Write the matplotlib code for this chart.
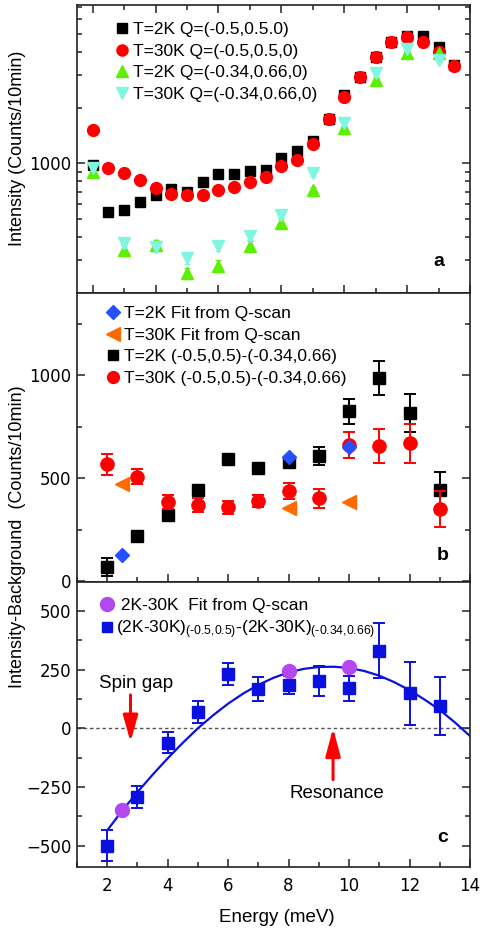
import matplotlib
matplotlib.use('Agg')
import matplotlib.pyplot as plt
from matplotlib.lines import Line2D
from matplotlib.ticker import MultipleLocator, LogLocator, NullFormatter, FixedLocator

plt.rcParams['font.family'] = ['DejaVu Sans']
plt.rcParams['mathtext.fontset'] = 'custom'
plt.rcParams['mathtext.rm'] = 'Liberation Sans'
plt.rcParams['mathtext.it'] = 'Liberation Sans:italic'
plt.rcParams['mathtext.default'] = 'regular'

TXT = ['Liberation Sans', 'DejaVu Sans']

# ---- panel a: raw intensities (log scale) ----
energy_half = [2.0, 2.5, 3.0, 3.5, 4.0, 4.5, 5.0, 5.5, 6.0, 6.5, 7.0, 7.5,
               8.0, 8.5, 9.0, 9.5, 10.0, 10.5, 11.0, 11.5, 12.0, 12.5, 13.0, 13.5]
a_2k_af  = [979, 543, 560, 615, 674, 726, 697, 795, 875, 875, 909, 920,
            1064, 1166, 1325, 1735, 2340, 2915, 3770, 4540, 4877, 4877, 4236, 3400]
a_2k_af_err = [30, 20, 20, 22, 23, 24, 23, 26, 28, 28, 29, 29,
               32, 34, 38, 45, 55, 62, 72, 80, 84, 84, 76, 66]
a_30k_af = [1514, 940, 883, 812, 738, 680, 674, 674, 717, 747, 795, 847,
            971, 1042, 1272, 1735, 2291, 2915, 3741, 4540, 4833, 4540, 4010, 3370]
a_30k_af_err = [40, 28, 27, 26, 25, 24, 24, 24, 25, 26, 27, 28,
                30, 32, 36, 45, 54, 62, 72, 80, 83, 80, 74, 66]

energy = [2, 3, 4, 5, 6, 7, 8, 9, 10, 11, 12, 13]
a_2k_bg  = [894, 340, 362, 254, 280, 357, 478, 717, 1546, 2818, 3933, 3933]
a_2k_bg_err = [30, 20, 21, 18, 19, 21, 25, 30, 45, 62, 75, 75]
a_30k_bg = [940, 370, 351, 306, 357, 405, 526, 883, 1645, 3064, 4130, 3616]
a_30k_bg_err = [31, 21, 20, 19, 21, 22, 26, 33, 46, 64, 77, 72]

# ---- panel b: intensity - background ----
b_2k = [68, 218, 320, 442, 592, 551, 580, 608, 824, 987, 816, 442]
b_2k_err = [43, 15, 15, 15, 18, 22, 18, 45, 63, 82, 94, 88]
b_30k = [567, 507, 385, 369, 358, 389, 437, 402, 662, 657, 670, 348]
b_30k_err = [52, 37, 35, 35, 30, 30, 38, 47, 63, 83, 95, 88]
qfit_energy = [2.5, 8, 10]
qfit_2k = [125, 602, 650]
qfit_30k = [472, 353, 384]

# ---- panel c: 2K - 30K ----
c_diff = [-500, -291, -61, 68, 232, 166, 185, 202, 170, 330, 149, 95]
c_diff_err = [66, 47, 45, 46, 48, 51, 37, 65, 53, 117, 133, 125]
c_qfit = [-348, 244, 263]
curve_energy = [2.0, 2.5, 3.0, 3.5, 4.0, 4.5, 5.0, 5.5, 6.0, 6.5, 7.0, 7.5, 8.0,
                8.5, 9.0, 9.5, 10.0, 10.5, 11.0, 11.5, 12.0, 12.5, 13.0, 13.5, 14.0]
curve_val = [-435, -350, -272, -198, -128, -62, 0, 55, 105, 148, 185, 215, 238,
             253, 261, 262, 257, 244, 224, 196, 162, 122, 78, 25, -33]

BLACK, RED, GREEN, CYAN = '#000000', '#ff0000', '#5cf000', '#80f6e2'
BLUE_D, ORANGE, BLUE, PURPLE = '#2450ff', '#ff6a00', '#0a10e0', '#b347f0'


def style(ax, top=False):
    ax.tick_params(which='both', direction='in', right=True, top=top,
                   width=1.1, labelsize=12, colors='#222222', labelcolor='black')
    ax.tick_params(which='major', length=6)
    ax.tick_params(which='minor', length=3.5)
    ax.tick_params(axis='y', pad=4)
    ax.tick_params(axis='x', pad=7)
    for s in ax.spines.values():
        s.set_linewidth(1.2)
        s.set_color('#222222')
    ax.xaxis.set_major_locator(MultipleLocator(2))
    ax.xaxis.set_minor_locator(MultipleLocator(1))


fig = plt.figure(figsize=(4.8, 9.33), dpi=100)
L, W = 77 / 480, 393 / 480
ax_a = fig.add_axes([L, 1 - 293 / 933, W, 288 / 933])
ax_b = fig.add_axes([L, 1 - 582 / 933, W, 289 / 933])
ax_c = fig.add_axes([L, 1 - 867 / 933, W, 285 / 933])

# panel a
ax_a.set_yscale('log')
eb = dict(fmt='none', elinewidth=0.9, capsize=2, capthick=0.9)
ax_a.errorbar(energy_half, a_2k_af, yerr=a_2k_af_err, ecolor=BLACK, zorder=2, **eb)
ax_a.plot(energy_half, a_2k_af, 's', color=BLACK, ms=7.5, zorder=2)
ax_a.errorbar(energy_half, a_30k_af, yerr=a_30k_af_err, ecolor='#200000', zorder=3, **eb)
ax_a.plot(energy_half, a_30k_af, 'o', color=RED, ms=8.5, zorder=3)
ax_a.errorbar(energy, a_2k_bg, yerr=a_2k_bg_err, ecolor=GREEN, zorder=4, **eb)
ax_a.plot(energy, a_2k_bg, '^', color=GREEN, ms=8.5, zorder=4)
ax_a.errorbar(energy, a_30k_bg, yerr=a_30k_bg_err, ecolor=CYAN, zorder=5, **eb)
ax_a.plot(energy, a_30k_bg, 'v', color=CYAN, ms=8.5, zorder=5)
ax_a.set_xlim(1.5, 14)
ax_a.set_ylim(199, 7170)
style(ax_a, top=True)
ax_a.yaxis.set_major_locator(FixedLocator([1000]))
ax_a.set_yticklabels(['1000'])
ax_a.yaxis.set_minor_locator(LogLocator(base=10, subs=(2, 3, 4, 5, 6, 7, 8, 9)))
ax_a.yaxis.set_minor_formatter(NullFormatter())
ax_a.tick_params(labelbottom=False)
h_a = [Line2D([], [], ls='none', marker='s', color=BLACK, ms=7),
       Line2D([], [], ls='none', marker='o', color=RED, ms=8),
       Line2D([], [], ls='none', marker='^', color=GREEN, ms=8),
       Line2D([], [], ls='none', marker='v', color=CYAN, ms=8)]
ax_a.legend(h_a, ['T=2K Q=(-0.5,0.5.0)', 'T=30K Q=(-0.5,0.5,0)',
                  'T=2K Q=(-0.34,0.66,0)', 'T=30K Q=(-0.34,0.66,0)'],
            loc='upper left', bbox_to_anchor=(0.102, 0.941), frameon=False,
            borderpad=0, borderaxespad=0, handlelength=0.6, handletextpad=0.3,
            labelspacing=0.37, prop={'family': TXT, 'size': 12.5})
ax_a.text(0.921, 0.108, 'a', transform=ax_a.transAxes, ha='center', va='center',
          fontsize=14, fontweight='bold', family=TXT)

# panel b
eb2 = dict(fmt='none', elinewidth=1.4, capsize=4.5, capthick=1.4)
ax_b.errorbar(energy, b_2k, yerr=b_2k_err, ecolor=BLACK, zorder=2, **eb2)
ax_b.plot(energy, b_2k, 's', color=BLACK, ms=9, zorder=2)
ax_b.errorbar(energy, b_30k, yerr=b_30k_err, ecolor=RED, zorder=3, **eb2)
ax_b.plot(energy, b_30k, 'o', color=RED, ms=9.5, zorder=3)
ax_b.plot(qfit_energy, qfit_30k, '<', color=ORANGE, ms=10.5, zorder=4)
ax_b.plot(qfit_energy, qfit_2k, 'D', color=BLUE_D, ms=7, zorder=5)
ax_b.set_xlim(1, 14)
ax_b.set_ylim(-5, 1400)
style(ax_b)
ax_b.yaxis.set_major_locator(FixedLocator([0, 500, 1000]))
ax_b.yaxis.set_minor_locator(MultipleLocator(250))
ax_b.tick_params(labelbottom=False)
h_b = [Line2D([], [], ls='none', marker='D', color=BLUE_D, ms=7),
       Line2D([], [], ls='none', marker='<', color=ORANGE, ms=10),
       Line2D([], [], ls='none', marker='s', color=BLACK, ms=7),
       Line2D([], [], ls='none', marker='o', color=RED, ms=8.5)]
ax_b.legend(h_b, ['T=2K Fit from Q-scan', 'T=30K Fit from Q-scan',
                  'T=2K (-0.5,0.5)-(-0.34,0.66)', 'T=30K (-0.5,0.5)-(-0.34,0.66)'],
            loc='upper left', bbox_to_anchor=(0.076, 0.955), frameon=False,
            borderpad=0, borderaxespad=0, handlelength=0.7, handletextpad=0.3,
            labelspacing=0.37, prop={'family': TXT, 'size': 12.5})
ax_b.text(0.931, 0.093, 'b', transform=ax_b.transAxes, ha='center', va='center',
          fontsize=14, fontweight='bold', family=TXT)

# panel c
ax_c.axhline(0, color='#555555', lw=1.0, dashes=(2.5, 2), zorder=1)
ax_c.plot(curve_energy, curve_val, '-', color=BLUE, lw=1.6, zorder=3)
ax_c.errorbar(energy, c_diff, yerr=c_diff_err, ecolor=BLUE, zorder=2, **eb2)
ax_c.plot(energy, c_diff, 's', color=BLUE, ms=9, zorder=2)
ax_c.plot(qfit_energy, c_qfit, 'o', color=PURPLE, ms=10, zorder=4)
ax_c.annotate('', xy=(2.77, -58), xytext=(2.77, 142),
              arrowprops=dict(arrowstyle='-|>,head_length=1.6,head_width=0.45',
                              color='red', lw=2.2, mutation_scale=10,
                              shrinkA=0, shrinkB=0))
ax_c.annotate('', xy=(9.47, 1), xytext=(9.47, -219),
              arrowprops=dict(arrowstyle='-|>,head_length=1.7,head_width=0.45',
                              color='red', lw=2.2, mutation_scale=10,
                              shrinkA=0, shrinkB=0))
ax_c.text(2.97, 189, 'Spin gap', ha='center', va='center', fontsize=13.5, family=TXT)
ax_c.text(9.6, -276, 'Resonance', ha='center', va='center', fontsize=13.5, family=TXT)
ax_c.set_xlim(1, 14)
ax_c.set_ylim(-591, 623)
style(ax_c)
ax_c.yaxis.set_major_locator(FixedLocator([-500, -250, 0, 250, 500]))
ax_c.yaxis.set_minor_locator(MultipleLocator(125))
h_c = [Line2D([], [], ls='none', marker='o', color=PURPLE, ms=10),
       Line2D([], [], ls='none', marker='s', color=BLUE, ms=7)]
ax_c.legend(h_c, [' 2K-30K  Fit from Q-scan',
                  r'(2K-30K)$_{\text{(-0.5,0.5)}}$-(2K-30K)$_{\text{(-0.34,0.66)}}$'],
            loc='upper left', bbox_to_anchor=(0.064, 0.944), frameon=False,
            borderpad=0, borderaxespad=0, handlelength=0.6, handletextpad=0.2,
            labelspacing=0.3, prop={'family': TXT, 'size': 12.5})
ax_c.text(0.93, 0.102, 'c', transform=ax_c.transAxes, ha='center', va='center',
          fontsize=14, fontweight='bold', family=TXT)

fig.text(18 / 480, 1 - 148 / 933, 'Intensity (Counts/10min)', rotation=90,
         ha='center', va='center', fontsize=13, family=TXT)
fig.text(18 / 480, 1 - 537 / 933, 'Intensity-Background  (Counts/10min)', rotation=90,
         ha='center', va='center', fontsize=13, family=TXT)
fig.text(277 / 480, 1 - 917 / 933, 'Energy (meV)', ha='center', va='center',
         fontsize=13.5, family=TXT)

fig.savefig('out.png', dpi=100)
